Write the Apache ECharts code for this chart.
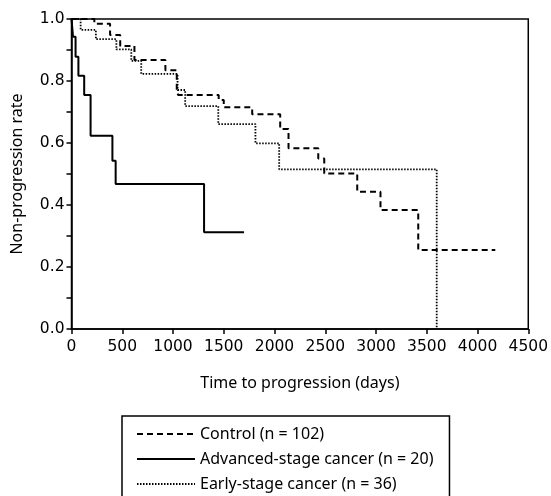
<!DOCTYPE html>
<html>
<head>
<meta charset="utf-8">
<script src="https://cdn.jsdelivr.net/npm/echarts@6/dist/echarts.min.js"></script>
<style>
  html, body { margin: 0; padding: 0; background: #fff; }
  #chart { width: 551px; height: 496px; }
</style>
</head>
<body>
<div id="chart"></div>
<script>
// step points: day of event, rate after event
const controlDays = [0, 225, 380, 480, 620, 925, 1037, 1050, 1450, 1500, 1780, 2056, 2138, 2431, 2490, 2815, 3044, 3416, 4175];
const controlRate = [1.0, 0.985, 0.948, 0.913, 0.868, 0.835, 0.77, 0.755, 0.739, 0.715, 0.693, 0.645, 0.583, 0.55, 0.502, 0.443, 0.384, 0.255, 0.255];

const advancedDays = [0, 15, 40, 68, 125, 188, 403, 435, 1306, 1700];
const advancedRate = [1.0, 0.943, 0.878, 0.817, 0.755, 0.623, 0.543, 0.468, 0.312, 0.312];

const earlyDays = [0, 90, 240, 442, 589, 687, 1045, 1120, 1446, 1812, 2046, 3598];
const earlyRate = [1.0, 0.965, 0.935, 0.902, 0.865, 0.823, 0.771, 0.719, 0.661, 0.599, 0.515, 0.0];

const seriesNames = ['Control (n = 102)', 'Advanced-stage cancer (n = 20)', 'Early-stage cancer (n = 36)'];

const zip = (xs, ys) => xs.map((x, i) => [x, ys[i]]);
const font = 'Noto Sans';
const tickFont = 'DejaVu Sans';

const chart = echarts.init(document.getElementById('chart'), null, { renderer: 'canvas' });

chart.setOption({
  animation: false,
  backgroundColor: '#fff',
  grid: {
    left: 71.5,
    right: 19.5,
    top: 19,
    bottom: 167,
    show: true,
    borderColor: '#000',
    borderWidth: 1.5
  },
  legend: {
    data: seriesNames,
    orient: 'vertical',
    left: 122,
    top: 416,
    height: 200,
    borderColor: '#000',
    borderWidth: 1.5,
    padding: [10, 16, 10, 14],
    itemGap: 9,
    itemWidth: 58,
    itemHeight: 14,
    itemStyle: { opacity: 0 },
    textStyle: { fontFamily: font, fontSize: 16, color: '#000' }
  },
  xAxis: {
    type: 'value',
    min: 0,
    max: 4500,
    interval: 500,
    name: 'Time to progression (days)',
    nameLocation: 'middle',
    nameGap: 46,
    nameTextStyle: { fontFamily: font, fontSize: 16, color: '#000' },
    axisLine: { lineStyle: { color: '#000', width: 1.5 } },
    axisTick: { length: 5, lineStyle: { color: '#000', width: 1.5 } },
    axisLabel: { fontFamily: tickFont, fontSize: 15.5, color: '#000', margin: 10, formatter: v => String(v) },
    splitLine: { show: false }
  },
  yAxis: {
    type: 'value',
    min: 0,
    max: 1,
    interval: 0.2,
    name: 'Non-progression rate',
    nameLocation: 'middle',
    nameGap: 46,
    nameTextStyle: { fontFamily: font, fontSize: 16, color: '#000' },
    axisLine: { lineStyle: { color: '#000', width: 1.5 } },
    axisTick: { length: 5, lineStyle: { color: '#000', width: 1.5 } },
    minorTick: { show: true, splitNumber: 2, length: 5, lineStyle: { color: '#000', width: 1.5 } },
    axisLabel: { fontFamily: tickFont, fontSize: 15.5, color: '#000', margin: 7, formatter: v => v.toFixed(1) },
    splitLine: { show: false }
  },
  series: [
    {
      name: seriesNames[0],
      type: 'line',
      step: 'end',
      symbol: 'none',
      data: zip(controlDays, controlRate),
      lineStyle: { color: '#000', width: 2, type: [6, 4] },
      itemStyle: { color: '#000' }
    },
    {
      name: seriesNames[1],
      type: 'line',
      step: 'end',
      symbol: 'none',
      data: zip(advancedDays, advancedRate),
      lineStyle: { color: '#000', width: 2, type: 'solid' },
      itemStyle: { color: '#000' }
    },
    {
      name: seriesNames[2],
      type: 'line',
      step: 'end',
      symbol: 'none',
      data: zip(earlyDays, earlyRate),
      lineStyle: { color: '#000', width: 1.8, type: [1.5, 1.5] },
      itemStyle: { color: '#000' }
    }
  ]
});
</script>
</body>
</html>
